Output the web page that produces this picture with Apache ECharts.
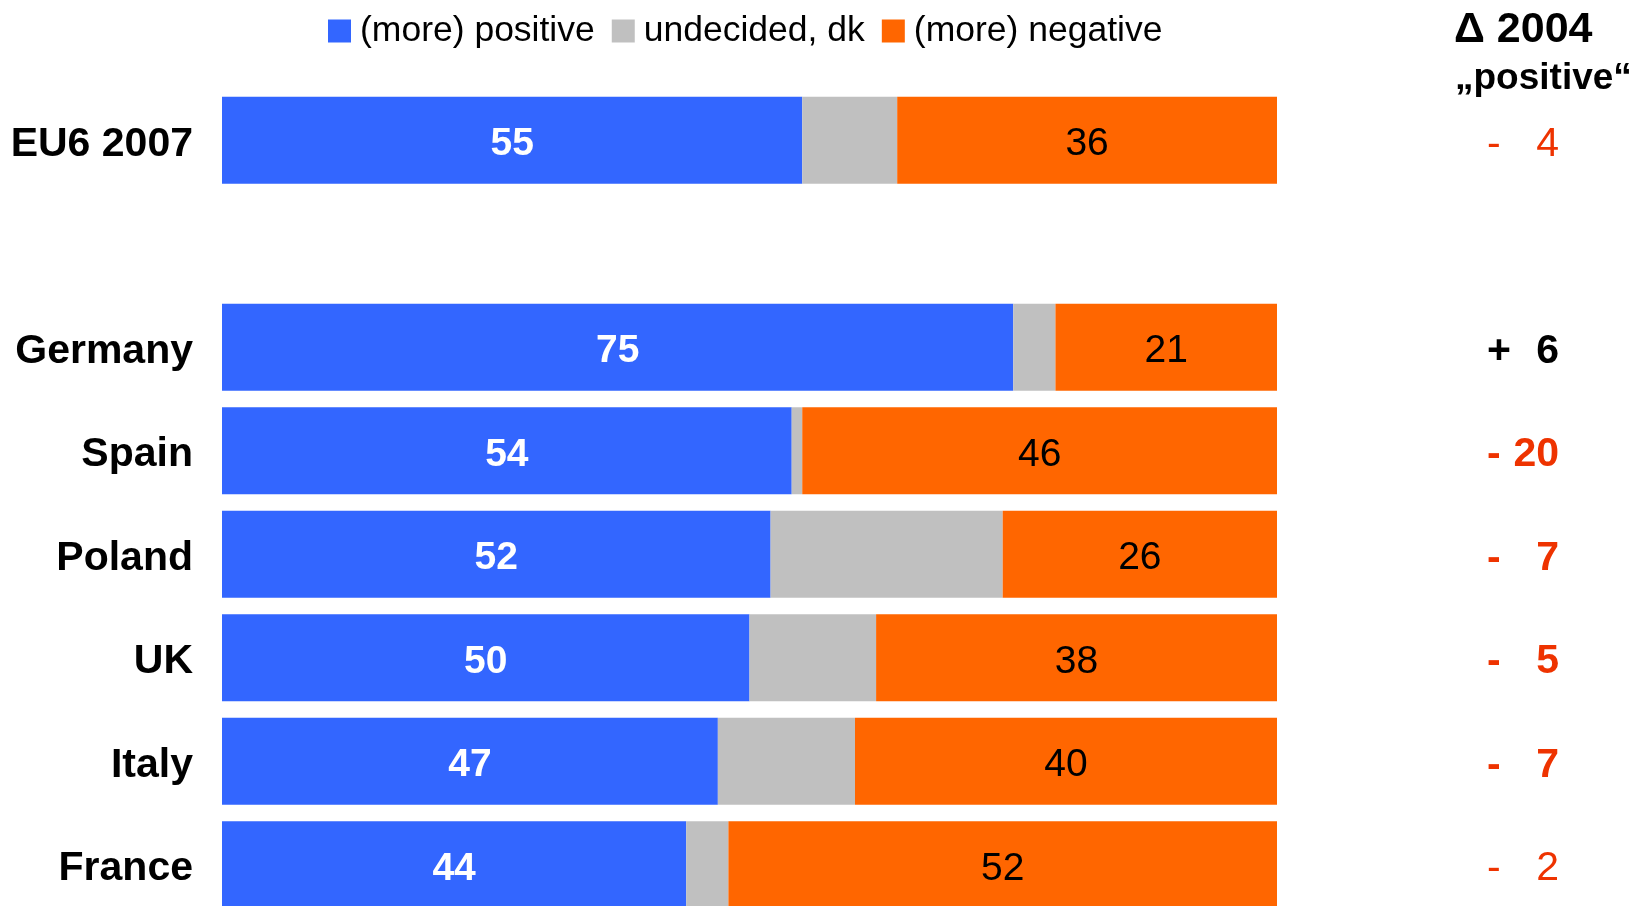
<!DOCTYPE html>
<html><head><meta charset="utf-8">
<script src="https://cdn.jsdelivr.net/npm/echarts@6/dist/echarts.min.js"></script>
<style>html,body{margin:0;padding:0;background:#fff;overflow:hidden}#c{width:1641px;height:940px}</style>
</head><body><div id="c"></div>
<script>
const categories = ['EU6 2007', '', 'Germany', 'Spain', 'Poland', 'UK', 'Italy', 'France'];
const positive = [55, null, 75, 54, 52, 50, 47, 44];
const undecided = [9, null, 4, 1, 22, 12, 13, 4];
const negative = [36, null, 21, 46, 26, 38, 40, 52];
const deltaSign = ['-', '', '+', '-', '-', '-', '-', '-'];
const deltaValue = ['4', '', '6', '20', '7', '5', '7', '2'];
const deltaBold = [false, false, true, true, true, true, true, false];
const seriesNames = ['(more) positive', 'undecided, dk', '(more) negative'];

const chart = echarts.init(document.getElementById('c'));
const FONT = 'Liberation Sans, Arial, sans-serif';
const RED = '#EE3300';

const rightLabels = categories.map((c, i) => {
  if (!deltaValue[i]) return '';
  const neg = deltaSign[i] === '-';
  const key = (neg ? 'r' : 'k') + (deltaBold[i] ? 'b' : 'n');
  return '{' + key + 's|' + deltaSign[i] + '}{' + key + 'v|' + deltaValue[i] + '}';
});
function rich() {
  const r = {};
  [['r', RED], ['k', '#000']].forEach(([c, col]) => {
    [['b', 'bold'], ['n', 'normal']].forEach(([w, fw]) => {
      r[c + w + 's'] = {color: col, fontWeight: fw, fontSize: 41, fontFamily: FONT, width: 22, align: 'left'};
      r[c + w + 'v'] = {color: col, fontWeight: fw, fontSize: 41, fontFamily: FONT, width: 50, align: 'right'};
    });
  });
  return r;
}

chart.setOption({
  animation: false,
  backgroundColor: '#fff',
  legend: {
    top: 8, left: 323,
    itemWidth: 23, itemHeight: 23, itemGap: 17,
    icon: 'rect',
    textStyle: {fontFamily: FONT, fontSize: 35.5, color: '#000', padding: [0, 0, 0, 4]},
    data: seriesNames
  },
  graphic: [
    {type: 'text', x: 1454, y: 30, style: {text: '\u0394 2004', fontSize: 43, fontWeight: 'bold', fontFamily: FONT, fill: '#000', align: 'left', verticalAlign: 'middle'}},
    {type: 'text', x: 1455, y: 79, style: {text: '\u201Epositive\u201C', fontSize: 37, fontWeight: 'bold', fontFamily: FONT, fill: '#000', align: 'left', verticalAlign: 'middle'}}
  ],
  grid: {left: 222, right: 364, top: 88.5, height: 828, containLabel: false},
  xAxis: {type: 'value', min: 0, max: 100, show: false},
  yAxis: [
    {type: 'category', data: categories, inverse: true,
     axisLine: {show: false}, axisTick: {show: false}, splitLine: {show: false},
     axisLabel: {margin: 29, padding: [8, 0, 0, 0],
       formatter: v => '{n|' + v + '}',
       rich: {n: {fontFamily: FONT, fontWeight: 'bold', fontSize: 41, color: '#000'}}}},
    {type: 'category', data: rightLabels, inverse: true, position: 'right',
     axisLine: {show: false}, axisTick: {show: false}, splitLine: {show: false},
     axisLabel: {margin: 210, align: 'left', padding: [8, 0, 0, 0], rich: rich()}}
  ],
  series: [
    {name: seriesNames[0], type: 'bar', stack: 't', data: positive, barWidth: 87,
     itemStyle: {color: '#3366FF'},
     label: {show: true, position: 'inside', offset: [0, 4], color: '#fff', fontWeight: 'bold', fontSize: 39, fontFamily: FONT}},
    {name: seriesNames[1], type: 'bar', stack: 't', data: undecided, barWidth: 87,
     itemStyle: {color: '#C0C0C0'}, label: {show: false}},
    {name: seriesNames[2], type: 'bar', stack: 't', data: negative, barWidth: 87,
     itemStyle: {color: '#FF6600'},
     label: {show: true, position: 'inside', offset: [0, 4], color: '#000', fontSize: 39, fontFamily: FONT}}
  ]
});
</script></body></html>
